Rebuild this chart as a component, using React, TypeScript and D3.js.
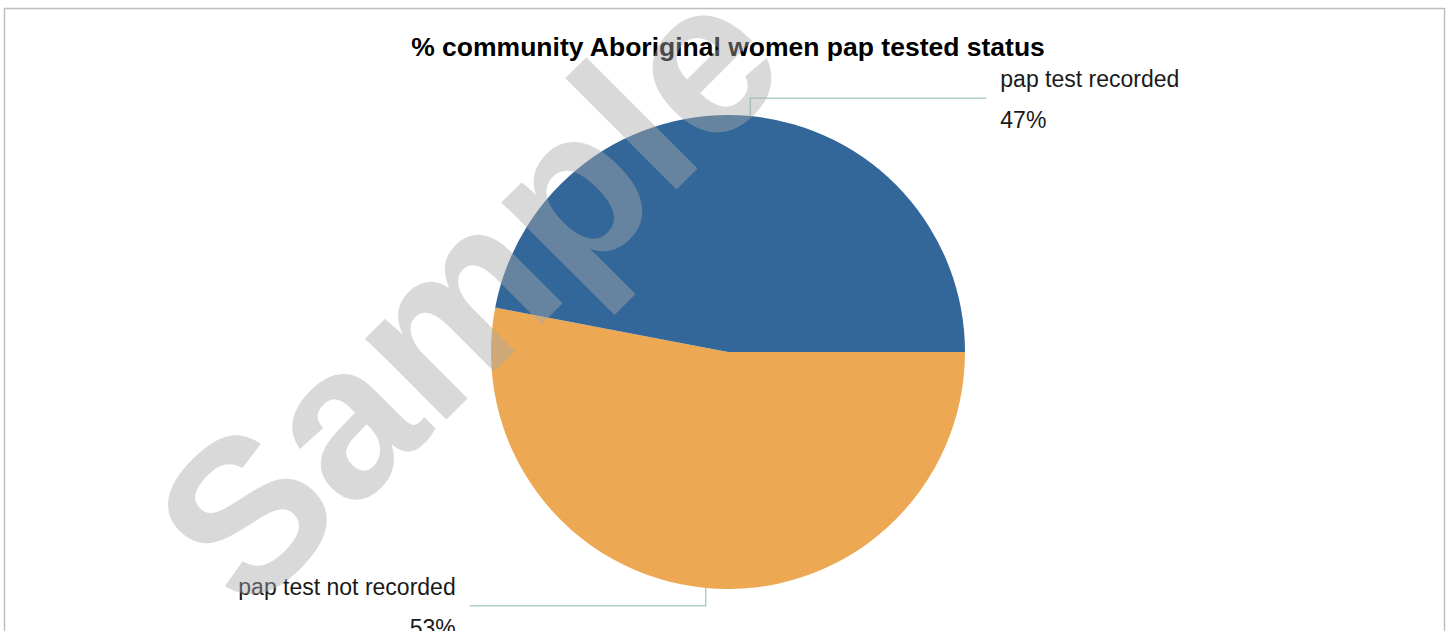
import React from "react";
import * as d3 from "d3";

const categories = ["pap test not recorded", "pap test recorded"];
const values = [53, 47];
const percentLabels = ["53%", "47%"];
const colors = ["#EDA853", "#336699"];
const title = "% community Aboriginal women pap tested status";
const watermark = "Sample";

const W = 1453;
const H = 631;
const cx = 728;
const cy = 352;
const R = 237;

export default function App() {
  const pie = d3
    .pie<number>()
    .sort(null)
    .startAngle(Math.PI / 2)
    .endAngle(Math.PI / 2 + 2 * Math.PI);
  const arcs = pie(values);
  const arc = d3.arc<d3.PieArcDatum<number>>().innerRadius(0).outerRadius(R);

  const font = "'Liberation Sans', Arial, Helvetica, sans-serif";

  return (
    <svg
      width={W}
      height={H}
      style={{ position: "absolute", left: 0, top: 0, display: "block" }}
    >
      <rect x={0} y={0} width={W} height={H} fill="#fff" />
      <rect x={4.5} y={8.5} width={1440} height={700} fill="#fff" stroke="#bfbfbf" strokeWidth={1.5} />
      <text
        x={cx}
        y={56}
        textAnchor="middle"
        fontFamily={font}
        fontWeight="bold"
        fontSize={26.5}
        fill="#000"
      >
        {title}
      </text>
      <g transform={`translate(${cx},${cy})`}>
        {arcs.map((a, i) => (
          <path key={i} d={arc(a) || ""} fill={colors[i]} />
        ))}
      </g>
      {arcs.map((a, i) => {
        const mid = (a.startAngle + a.endAngle) / 2;
        const ax = cx + R * Math.sin(mid);
        const ay = cy - R * Math.cos(mid);
        const up = ay < cy;
        const ey = up ? ay - 18 : ay + 18;
        const ex = up ? ax + 236 : ax - 236;
        const lx = up ? ex + 14 : ex - 14;
        return (
          <g key={"l" + i}>
            <polyline
              points={`${ax},${ay} ${ax},${ey} ${ex},${ey}`}
              fill="none"
              stroke="#a3cbbd"
              strokeWidth={1.3}
            />
            <text
              x={lx}
              y={ey - 11}
              textAnchor={up ? "start" : "end"}
              fontFamily={font}
              fontSize={23}
              fill="#1a1a1a"
            >
              {categories[i]}
            </text>
            <text
              x={lx}
              y={ey + 30}
              textAnchor={up ? "start" : "end"}
              fontFamily={font}
              fontSize={23}
              fill="#1a1a1a"
            >
              {percentLabels[i]}
            </text>
          </g>
        );
      })}
      <text
        transform="translate(248,618) rotate(-45)"
        textAnchor="start"
        fontFamily={font}
        fontWeight="bold"
        fontSize={217}
        fill="#a8a8a8"
        fillOpacity={0.44}
      >
        {watermark}
      </text>
    </svg>
  );
}
